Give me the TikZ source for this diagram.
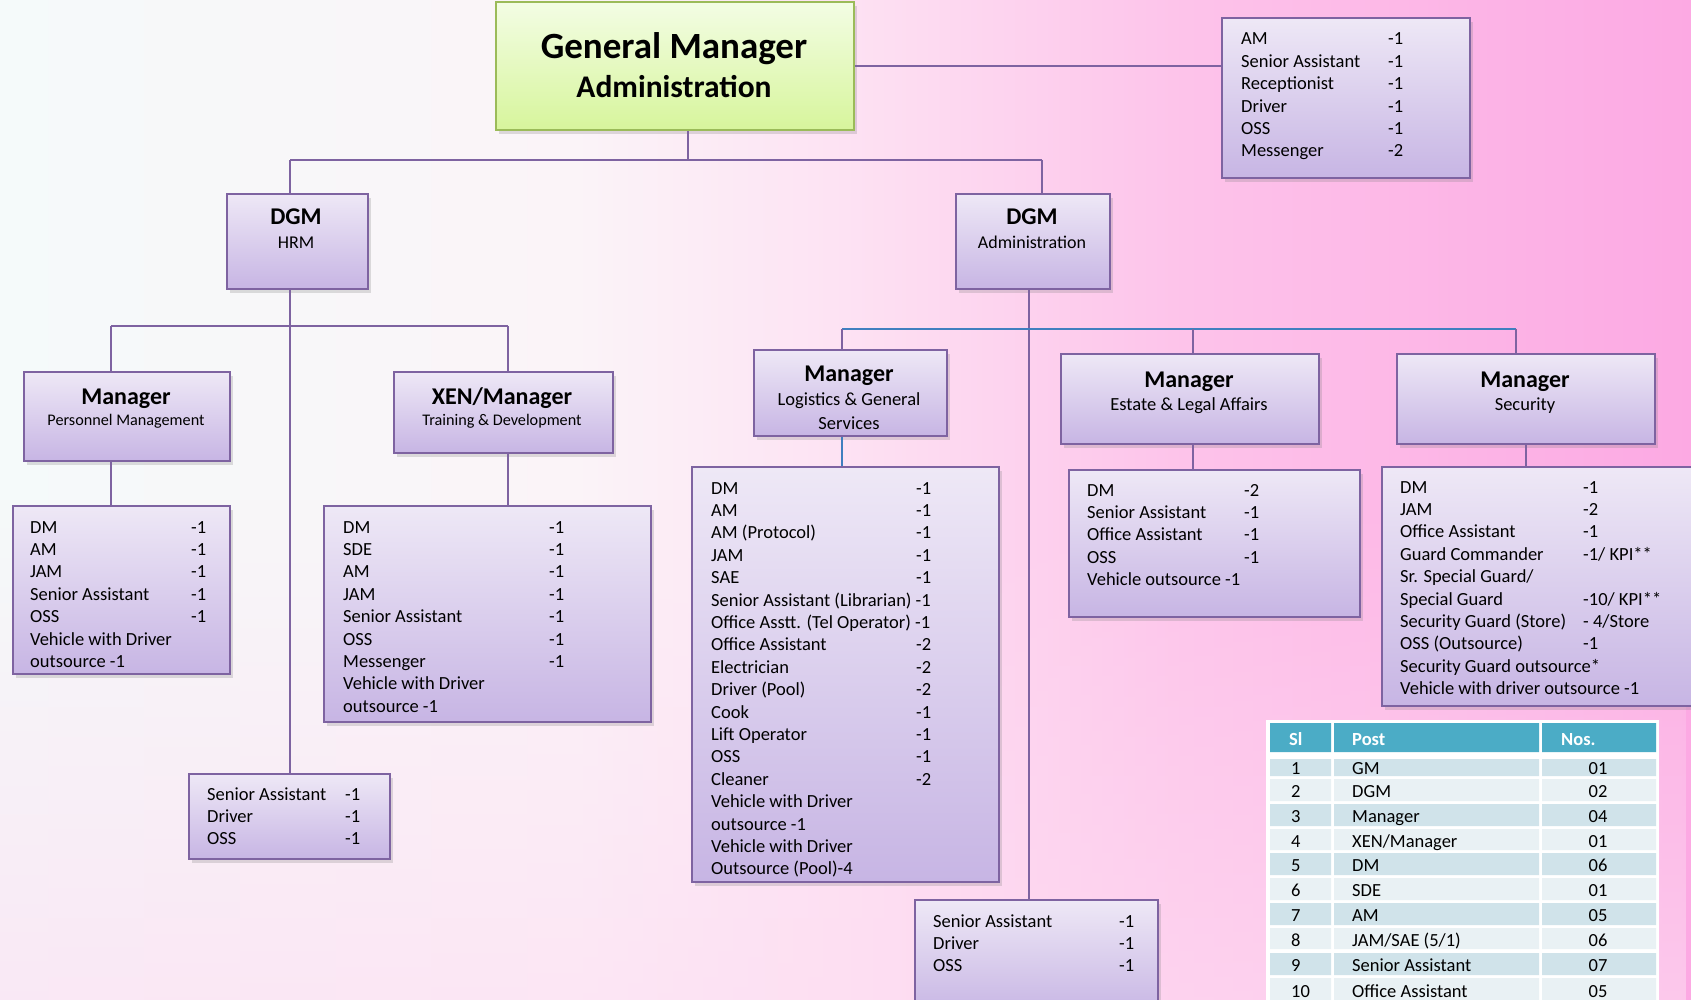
\documentclass[tikz,border=0pt]{standalone}
\usepackage{fontspec}
\setmainfont{Carlito}
\usetikzlibrary{shadows,fadings}
\definecolor{boxTop}{HTML}{EEE8F6}
\definecolor{boxBot}{HTML}{C7B5E4}
\definecolor{boxLine}{HTML}{7E63A1}
\definecolor{gmTop}{HTML}{F3FDE4}
\definecolor{gmBot}{HTML}{D7F59C}
\definecolor{gmLine}{HTML}{9BBB59}
\definecolor{connC}{HTML}{7E63A1}
\definecolor{connBlue}{HTML}{3F7FBF}
\definecolor{hdr}{HTML}{4BACC6}
\definecolor{rowA}{HTML}{D0E3EA}
\definecolor{rowB}{HTML}{E9F1F4}
\definecolor{bg0}{HTML}{F5FAFA}
\definecolor{bg1}{HTML}{FBF4F8}
\definecolor{bg2}{HTML}{FDE2F3}
\definecolor{bg3}{HTML}{FDC3EA}
\definecolor{bg4}{HTML}{FCA9E3}
\definecolor{bgpink}{HTML}{FDDDF2}
\pgfdeclarehorizontalshading{bgshade}{100bp}{color(0bp)=(bg0); color(25bp)=(bg0); color(42bp)=(bg1); color(50bp)=(bg2); color(60bp)=(bg3); color(75bp)=(bg4); color(100bp)=(bg4)}
\newcommand{\plist}[2]{\begin{tabular}[t]{@{}p{#1pt}@{}l@{}}#2\end{tabular}}
\newcommand{\spanrow}[1]{\multicolumn{2}{@{}l@{}}{#1}}
\begin{document}
\begin{tikzpicture}[x=1pt,y=1pt,
  obox/.style={draw=boxLine, line width=2pt, top color=boxTop, bottom color=boxBot,
    rectangle, inner sep=0pt, anchor=north west,
    drop shadow={shadow xshift=3pt,shadow yshift=-4pt,opacity=0.25}},
  gmbox/.style={obox, draw=gmLine, top color=gmTop, bottom color=gmBot},
  conn/.style={draw=connC, line width=2pt},
  connb/.style={draw=connBlue, line width=2.2pt},
  ttl/.style={anchor=base, inner sep=0pt, font=\fontsize{24}{28}\selectfont\bfseries},
  sub/.style={anchor=base, inner sep=0pt, font=\fontsize{18}{21}\selectfont},
  subL/.style={anchor=base, inner sep=0pt, font=\fontsize{18.5}{22}\selectfont},
  subS/.style={anchor=base, inner sep=0pt, font=\fontsize{16.2}{19}\selectfont},
  ltxt/.style={anchor=base west, inner sep=0pt, font=\fontsize{18.5}{22.4}\selectfont},
  ttxt/.style={anchor=base west, inner sep=0pt, font=\fontsize{18.5}{22}\selectfont},
  tnum/.style={anchor=base, inner sep=0pt, font=\fontsize{18.5}{22}\selectfont},
  thd/.style={anchor=base west, inner sep=0pt, text=white, font=\fontsize{18.5}{22}\selectfont\bfseries},
]
\useasboundingbox (0,0) rectangle (1691,-1000);
\shade[shading=bgshade] (0,0) rectangle (1691,-1000);
\fill[bgpink, path fading=north, opacity=0.6] (0,-500) rectangle (1691,-1000);

% ---------- boxes ----------
\node[gmbox, minimum width=358, minimum height=128] (gm) at (495,-1) {};
\node[obox, minimum width=248, minimum height=160] (am) at (1221,-17) {};
\node[obox, minimum width=141, minimum height=95] (hrm) at (226,-193) {};
\node[obox, minimum width=154, minimum height=95] (adm) at (955,-193) {};
\node[obox, minimum width=206, minimum height=89] (pm) at (23,-371) {};
\node[obox, minimum width=219, minimum height=81] (xen) at (393,-371) {};
\node[obox, minimum width=193, minimum height=86] (lgs) at (753,-349) {};
\node[obox, minimum width=258, minimum height=90] (est) at (1060,-353) {};
\node[obox, minimum width=258, minimum height=90] (sec) at (1396,-353) {};
\node[obox, minimum width=217, minimum height=168] (pmL) at (12,-505) {};
\node[obox, minimum width=327, minimum height=216] (xenL) at (323,-505) {};
\node[obox, minimum width=201, minimum height=85] (hrmL) at (188,-773) {};
\node[obox, minimum width=307, minimum height=415] (lgsL) at (691,-466) {};
\node[obox, minimum width=291, minimum height=147] (estL) at (1068,-469) {};
\node[obox, minimum width=329, minimum height=239] (secL) at (1381,-466) {};
\node[obox, minimum width=243, minimum height=115] (admL) at (914,-899) {};

% ---------- titles ----------
\node[ttl, font=\fontsize{37}{40}\selectfont\bfseries] (gmT1) at (674,-59) {General Manager};
\node[ttl, font=\fontsize{31.5}{34}\selectfont\bfseries] (gmT2) at (674,-98) {Administration};
\node[ttl] (hrmT1) at (296,-225) {DGM};
\node[sub] (hrmT2) at (296,-249) {HRM};
\node[ttl] (admT1) at (1032,-225) {DGM};
\node[sub] (admT2) at (1032,-249) {Administration};
\node[ttl] (pmT1) at (126,-404) {Manager};
\node[subS] (pmT2) at (126,-425) {Personnel Management};
\node[ttl] (xenT1) at (502,-404) {XEN/Manager};
\node[subS] (xenT2) at (502,-425) {Training \& Development};
\node[ttl] (lgsT1) at (849,-381) {Manager};
\node[subL] (lgsT2) at (849,-405) {Logistics \& General};
\node[subL] (lgsT3) at (849,-429) {Services};
\node[ttl] (estT1) at (1189,-387) {Manager};
\node[subL] (estT2) at (1189,-410) {Estate \& Legal Affairs};
\node[ttl] (secT1) at (1525,-387) {Manager};
\node[subL] (secT2) at (1525,-410) {Security};

% ---------- connectors ----------
\coordinate (j0) at (688,-160);
\coordinate (jL) at (290,-160);
\coordinate (jR) at (1042,-160);
\draw[conn] (gm.south -| j0) -- (j0);
\draw[conn] (jL) -- (jR);
\draw[conn] (jL) -- (jL |- hrm.north);
\draw[conn] (jR) -- (jR |- adm.north);
\draw[conn] (gm.east) -- (gm.east -| am.west);

\coordinate (h0) at (290,-326);
\coordinate (hL) at (111,-326);
\coordinate (hR) at (508,-326);
\draw[conn] (h0 |- hrm.south) -- (h0 |- hrmL.north);
\draw[conn] (hL) -- (hR);
\draw[conn] (hL) -- (hL |- pm.north);
\draw[conn] (hR) -- (hR |- xen.north);
\draw[conn] (hL |- pm.south) -- (hL |- pmL.north);
\draw[conn] (hR |- xen.south) -- (hR |- xenL.north);

\coordinate (a0) at (1029,-329);
\coordinate (aL) at (842,-329);
\coordinate (aM) at (1193,-329);
\coordinate (aR) at (1516,-329);
\coordinate (sD) at (1526,-450);
\draw[conn] (a0 |- adm.south) -- (a0 |- admL.north);
\draw[connb] (aL) -- (aR);
\draw[conn, line width=1.6pt] (aL) -- (aL |- lgs.north);
\draw[conn, line width=1.6pt] (aM) -- (aM |- est.north);
\draw[conn, line width=1.6pt] (aR) -- (aR |- sec.north);
\draw[connb] (aL |- lgs.south) -- (aL |- lgsL.north);
\draw[conn] (aM |- est.south) -- (aM |- estL.north);
\draw[conn] (sD |- sec.south) -- (sD |- secL.north);

% ---------- list texts ----------
\node[ltxt] (amX) at (1241,-45) {\plist{147}{AM & -1\\ Senior Assistant & -1\\ Receptionist & -1\\ Driver & -1\\ OSS & -1\\ Messenger & -2}};
\node[ltxt] (pmX) at (30,-533) {\plist{161}{DM & -1\\ AM & -1\\ JAM & -1\\ Senior Assistant & -1\\ OSS & -1\\ \spanrow{Vehicle with Driver}\\ \spanrow{outsource -1}}};
\node[ltxt] (xenX) at (343,-533) {\plist{206}{DM & -1\\ SDE & -1\\ AM & -1\\ JAM & -1\\ Senior Assistant & -1\\ OSS & -1\\ Messenger & -1\\ \spanrow{Vehicle with Driver}\\ \spanrow{outsource -1}}};
\node[ltxt] (hrmX) at (207,-800) {\plist{138}{Senior Assistant & -1\\ Driver & -1\\ OSS & -1}};
\node[ltxt] (lgsX) at (711,-494) {\plist{205}{DM & -1\\ AM & -1\\ AM (Protocol) & -1\\ JAM & -1\\ SAE & -1\\ \spanrow{Senior Assistant (Librarian) -1}\\ \spanrow{Office Asstt. (Tel Operator) -1}\\ Office Assistant & -2\\ Electrician & -2\\ Driver (Pool) & -2\\ Cook & -1\\ Lift Operator & -1\\ OSS & -1\\ Cleaner & -2\\ \spanrow{Vehicle with Driver}\\ \spanrow{outsource -1}\\ \spanrow{Vehicle with Driver}\\ \spanrow{Outsource (Pool)-4}}};
\node[ltxt] (estX) at (1087,-496) {\plist{157}{DM & -2\\ Senior Assistant & -1\\ Office Assistant & -1\\ OSS & -1\\ \spanrow{Vehicle outsource -1}}};
\node[ltxt] (secX) at (1400,-493) {\plist{183}{DM & -1\\ JAM & -2\\ Office Assistant & -1\\ Guard Commander & -1/ KPI**\\ \spanrow{Sr. Special Guard/}\\ Special Guard & -10/ KPI**\\ Security Guard (Store) & - 4/Store\\ OSS (Outsource) & -1\\ \spanrow{Security Guard outsource*}\\ \spanrow{Vehicle with driver outsource -1}}};
\node[ltxt] (admX) at (933,-927) {\plist{186}{Senior Assistant & -1\\ Driver & -1\\ OSS & -1}};

% ---------- table ----------
\fill[white] (1266,-720) rectangle (1659,-1005);
\fill[hdr] (1270,-723) rectangle (1331,-752) (1334,-723) rectangle (1539,-752) (1542,-723) rectangle (1656,-752);
\foreach \t/\b/\c in {759/776/rowA, 779/801/rowB, 804/826/rowA, 829/850/rowB, 853/875/rowA, 878/900/rowB, 903/925/rowA, 928/949/rowB, 953/975/rowA, 978/1005/rowB}{
  \fill[\c] (1270,-\t) rectangle (1331,-\b) (1334,-\t) rectangle (1539,-\b) (1542,-\t) rectangle (1656,-\b);
}
\node[thd] (hSl) at (1289,-745) {Sl};
\node[thd] (hPost) at (1352,-745) {Post};
\node[thd] (hNos) at (1561,-745) {Nos.};
\foreach \i/\p/\n/\y in {1/GM/01/774, 2/DGM/02/797, 3/Manager/04/822, 4/XEN\slash Manager/01/847, 5/DM/06/871, 6/SDE/01/896, 7/AM/05/921, 8/JAM\slash SAE (5\slash 1)/06/946, 9/Senior Assistant/07/971, 10/Office Assistant/05/997}{
  \node[ttxt] (sl\i) at (1291,-\y) {\i};
  \node[ttxt] (po\i) at (1352,-\y) {\p};
  \node[tnum] (no\i) at (1598,-\y) {\n};
}
\end{tikzpicture}
\end{document}
